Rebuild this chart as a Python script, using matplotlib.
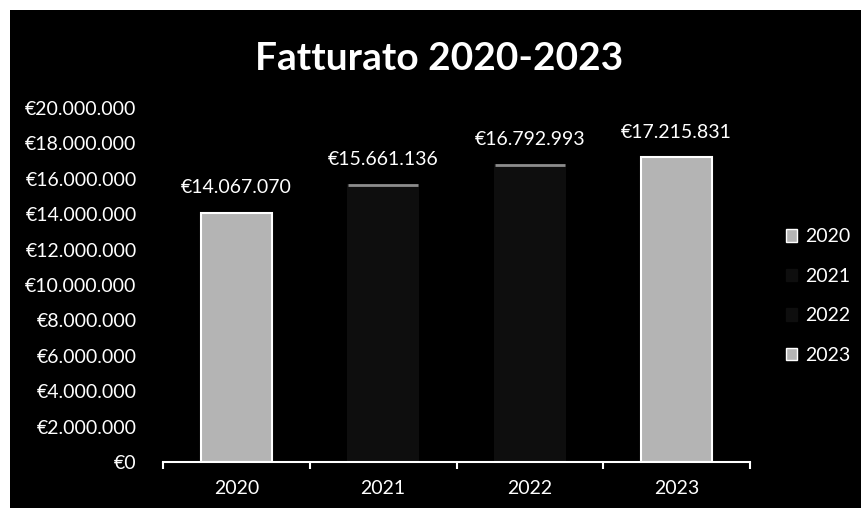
import matplotlib.pyplot as plt
from matplotlib.patches import Rectangle
from matplotlib.ticker import FuncFormatter

years = ['2020', '2021', '2022', '2023']
fatturato = [14067070, 15661136, 16792993, 17215831]
bar_colors = ['#b4b4b4', '#0e0e0e', '#0e0e0e', '#b4b4b4']
edge_colors = ['white', '#0e0e0e', '#0e0e0e', 'white']

def euro(v):
    return '€' + f'{int(v):,}'.replace(',', '.')

plt.rcParams['font.family'] = ['Lato', 'DejaVu Sans']

fig = plt.figure(figsize=(8.61, 5.08), dpi=100)
fig.patch.set_facecolor('white')
fig.add_artist(Rectangle((10 / 861, 0), 1, 1 - 10 / 508, transform=fig.transFigure,
                         facecolor='black', edgecolor='none', zorder=-10))

ax = fig.add_axes([163 / 861, 1 - 462 / 508, (750 - 163) / 861, (462 - 108) / 508])
ax.set_facecolor('black')
ax.patch.set_alpha(0)

x = list(range(len(years)))
w = 0.48
bars = ax.bar(x, fatturato, width=w, color=bar_colors, edgecolor=edge_colors,
              linewidth=1.5, label=years)
# tops of the dark bars are only faintly visible
for i in (1, 2):
    ax.hlines(fatturato[i], x[i] - w / 2, x[i] + w / 2, color='#8c8c8c', lw=2)

for xi, v in zip(x, fatturato):
    ax.annotate(euro(v), (xi, v), xytext=(0, 12), textcoords='offset points',
                ha='center', va='bottom', color='white', fontsize=14)

ax.set_xlim(-0.5, 3.5)
ax.set_ylim(0, 20000000)
ax.set_yticks(range(0, 20000001, 2000000))
ax.yaxis.set_major_formatter(FuncFormatter(lambda v, p: euro(v)))
ax.tick_params(axis='y', length=0, pad=19, colors='white', labelsize=14)
ax.set_xticks(x)
ax.set_xticklabels(years)
ax.set_xticks([-0.5, 0.5, 1.5, 2.5, 3.5], minor=True)
ax.tick_params(axis='x', which='major', length=0, pad=13, colors='white', labelsize=14)
ax.tick_params(axis='x', which='minor', length=5, width=1.5, color='white', direction='out')

for s in ['top', 'right', 'left']:
    ax.spines[s].set_visible(False)
ax.spines['bottom'].set_color('white')
ax.spines['bottom'].set_linewidth(1.5)

handles = [Rectangle((0, 0), 1, 1, facecolor=c, edgecolor=e) for c, e in zip(bar_colors, edge_colors)]
leg = fig.legend(handles, years, loc='center left', bbox_to_anchor=(768 / 861, 1 - 296 / 508),
                 frameon=False, fontsize=14, labelcolor='white', handlelength=0.6,
                 handleheight=0.6, handletextpad=0.4, labelspacing=1.15)

fig.text(439 / 861, 1 - 58 / 508, 'Fatturato 2020-2023', ha='center', va='center',
         color='white', fontsize=28, fontweight='bold')

fig.savefig('out.png', dpi=100, facecolor=fig.get_facecolor())
